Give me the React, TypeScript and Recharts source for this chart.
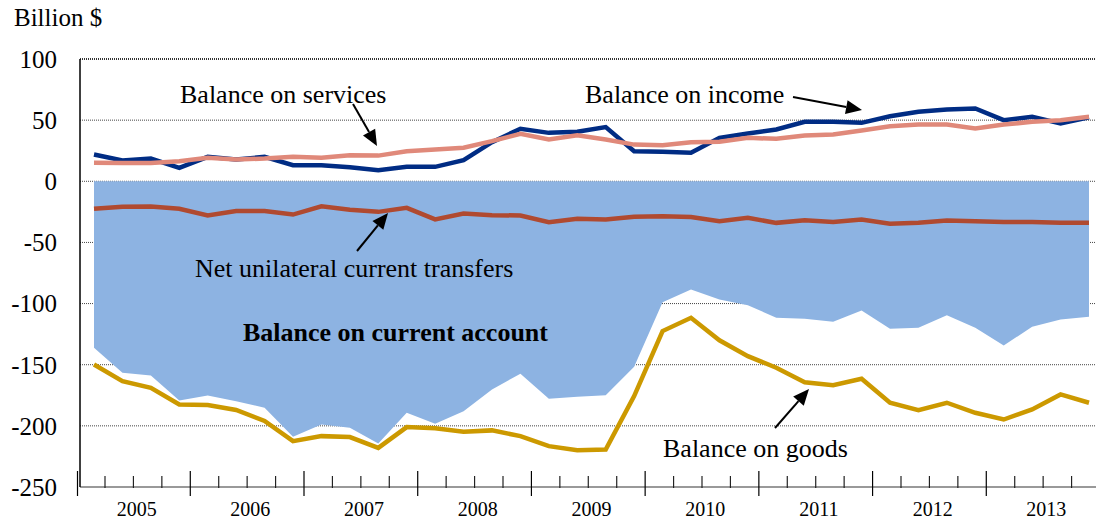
import React from 'react'
import {
  ComposedChart,
  Area,
  Line,
  XAxis,
  YAxis,
  CartesianGrid,
  ReferenceLine,
} from 'recharts'

// quarterly, 2005Q1 .. 2013Q4
const quarters = [
  '2005Q1', '2005Q2', '2005Q3', '2005Q4',
  '2006Q1', '2006Q2', '2006Q3', '2006Q4',
  '2007Q1', '2007Q2', '2007Q3', '2007Q4',
  '2008Q1', '2008Q2', '2008Q3', '2008Q4',
  '2009Q1', '2009Q2', '2009Q3', '2009Q4',
  '2010Q1', '2010Q2', '2010Q3', '2010Q4',
  '2011Q1', '2011Q2', '2011Q3', '2011Q4',
  '2012Q1', '2012Q2', '2012Q3', '2012Q4',
  '2013Q1', '2013Q2', '2013Q3', '2013Q4',
]

const currentAccount = [
  -136.2, -156.6, -158.8, -179.2, -175.1, -179.8, -185.2, -208.9, -198.9, -201.6, -214.4, -189.3,
  -198.3, -188, -170.2, -157.4, -177.8, -176.2, -174.9, -151.7, -98.9, -88.5, -96.6, -101.3,
  -111.6, -112.4, -114.9, -105.6, -120.6, -119.8, -109.5, -119.8, -134.3, -119, -113, -110.8,
]

const income = [
  21.9, 17, 18.6, 11, 20, 17.8, 20, 13.2, 13.2, 11.5, 9, 11.8,
  11.8, 17.3, 32, 43, 39.6, 40.5, 44.3, 24.6, 24.1, 23.3, 35.5, 39,
  42.4, 48.6, 48.6, 47.8, 53.2, 56.8, 58.7, 59.5, 50, 52.7, 47.3, 52.4,
]

const services = [
  15.1, 15, 15, 16.4, 19.2, 17.8, 18.6, 20, 19.2, 21.2, 21, 24.6,
  26, 27.4, 32.8, 38.8, 34.2, 37.7, 34.2, 30, 29.5, 32, 32.3, 35.5,
  34.7, 37.4, 38.3, 41.5, 45, 46.4, 46.4, 43.2, 46.4, 48.6, 50, 52.7,
]

const transfers = [
  -22.5, -20.9, -20.6, -22.5, -28, -24.4, -24.4, -27.2, -20.5, -23.3, -25, -21.7,
  -31.2, -26.3, -27.7, -28, -33.4, -30.7, -31.2, -29, -28.5, -29.3, -32.6, -29.9,
  -34, -31.8, -33.2, -31.2, -34.8, -34, -32, -32.6, -33.2, -33.2, -34, -34,
]

const goods = [
  -149.8, -163.4, -168.9, -182.5, -183, -187, -196, -212.5, -208.4, -209.2, -218, -201,
  -202, -204.8, -203.7, -208.4, -216.6, -219.9, -219.3, -175.7, -122.5, -111.6, -130, -143,
  -152.5, -164.3, -166.7, -161.5, -181.1, -187.1, -181.1, -189.3, -194.8, -186.6, -174.3, -181.1,
]

const yTicks = [100, 50, 0, -50, -100, -150, -200, -250]

const data = quarters.map((q, i) => ({
  q,
  currentAccount: currentAccount[i],
  income: income[i],
  services: services[i],
  transfers: transfers[i],
  goods: goods[i],
}))

const FONT = '"Liberation Serif", "Times New Roman", Times, serif'

function QuarterTick(props: any) {
  const { x, y, payload, index } = props
  const i = payload?.index ?? index
  const major = i % 4 === 3
  const year = String(payload.value).slice(0, 4)
  return (
    <g>
      {i === 0 && <line x1={x - 16.5} x2={x - 16.5} y1={y - 16} y2={y + 9} stroke="#000" strokeWidth={1.2} />}
      <line
        x1={x + 11}
        x2={x + 11}
        y1={y - (major ? 16 : 11)}
        y2={y + (major ? 9 : 1)}
        stroke={major ? '#000' : '#222'}
        strokeWidth={1.2}
      />
      {i % 4 === 1 && (
        <text x={x + 14.2} y={y + 29} textAnchor="middle" fontSize={20} fontFamily={FONT} fill="#000">
          {year}
        </text>
      )}
    </g>
  )
}

function Arrow({ x1, y1, x2, y2 }: { x1: number; y1: number; y2: number; x2: number }) {
  const a = Math.atan2(y2 - y1, x2 - x1)
  const len = 16
  const half = 7
  const bx = x2 - len * Math.cos(a)
  const by = y2 - len * Math.sin(a)
  const px = -Math.sin(a) * half
  const py = Math.cos(a) * half
  return (
    <g>
      <line x1={x1} y1={y1} x2={bx} y2={by} stroke="#000" strokeWidth={2} />
      <polygon points={`${x2},${y2} ${bx + px},${by + py} ${bx - px},${by - py}`} fill="#000" />
    </g>
  )
}

export default function App() {
  return (
    <div style={{ position: 'absolute', left: 0, top: 0, width: 1096, height: 520, background: '#fff', overflow: 'hidden' }}>
      <ComposedChart width={1096} height={520} data={data} margin={{ top: 59, right: 0, bottom: 0, left: 0 }}>
        <CartesianGrid vertical={false} stroke="#444" strokeDasharray="1 1" />
        <XAxis
          dataKey="q"
          scale="point"
          padding={{ left: 14, right: 7 }}
          interval={0}
          height={33}
          tickLine={false}
          tickSize={0}
          tickMargin={0}
          axisLine={{ stroke: '#999', strokeWidth: 2 }}
          tick={<QuarterTick />}
        />
        <YAxis
          width={80}
          domain={[-250, 100]}
          ticks={yTicks}
          interval={0}
          tickLine={false}
          tickSize={0}
          tickMargin={23}
          axisLine={{ stroke: '#000', strokeWidth: 1.5 }}
          tick={{ fontSize: 25, fill: '#000', fontFamily: FONT }}
        />
        <ReferenceLine y={100} stroke="#111" strokeDasharray="1 1" strokeWidth={1.5} />
        <Area
          dataKey="currentAccount"
          type="linear"
          baseValue={0}
          stroke="none"
          fill="#8DB3E2"
          fillOpacity={1}
          isAnimationActive={false}
        />
        <Line dataKey="transfers" type="linear" stroke="#B04A30" strokeWidth={4.5} dot={false} isAnimationActive={false} />
        <Line dataKey="goods" type="linear" stroke="#CC9900" strokeWidth={4.5} dot={false} isAnimationActive={false} />
        <Line dataKey="income" type="linear" stroke="#002C84" strokeWidth={4.5} dot={false} isAnimationActive={false} />
        <Line dataKey="services" type="linear" stroke="#E0897A" strokeWidth={4.5} dot={false} isAnimationActive={false} />
      </ComposedChart>
      <svg
        width={1096}
        height={520}
        style={{ position: 'absolute', left: 0, top: 0, pointerEvents: 'none' }}
        fontFamily={FONT}
      >
        <text x={14} y={26} fontSize={25} fill="#000">Billion $</text>
        <text x={180} y={103} fontSize={26} fill="#000">Balance on services</text>
        <text x={585} y={103} fontSize={26} fill="#000">Balance on income</text>
        <text x={195} y={277} fontSize={26} fill="#000">Net unilateral current transfers</text>
        <text x={243} y={341} fontSize={26} fontWeight="bold" fill="#000">Balance on current account</text>
        <text x={663} y={457} fontSize={26} fill="#000">Balance on goods</text>
        <Arrow x1={353} y1={104} x2={377} y2={146} />
        <Arrow x1={793} y1={97} x2={862} y2={110} />
        <Arrow x1={357} y1={251} x2={388} y2={213} />
        <Arrow x1={775} y1={428} x2={809} y2={389} />
      </svg>
    </div>
  )
}
